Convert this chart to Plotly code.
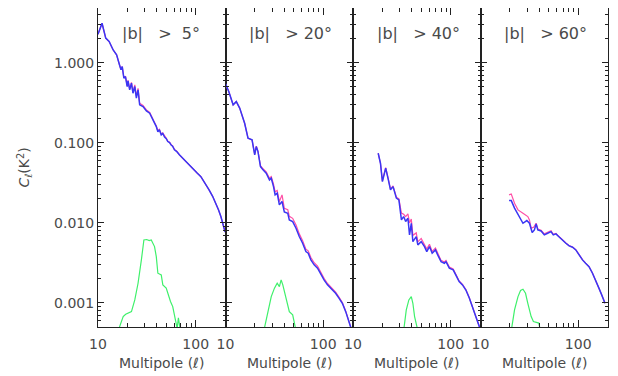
import plotly.graph_objects as go
from plotly.subplots import make_subplots

# ---------------- data ----------------
# Panel 1 : |b| > 5 deg
L1_BLUE = [10, 11, 12, 13, 14.3, 15.5, 16.7, 17.2, 17.7, 18.4, 19.1, 19.9, 20.3, 21.1, 22.0, 22.8, 23.8,
           24.7, 25.7, 26.7, 28.9, 31.3, 33.8, 35.2, 36.5, 37.9, 39.5, 41.0, 42.5, 44.4, 46.0, 48.0, 50.0,
           51.8, 54.0, 56.1, 58.0, 60.6, 64.0, 68.1, 72.0, 76.6, 81.0, 86.1, 91.0, 96.8, 104, 113, 124, 137,
           149, 161, 171, 181, 192, 200]
C1_BLUE = [2.28, 3.13, 2.04, 1.85, 1.45, 1.26, 0.92, 0.82, 0.90, 0.644, 0.674, 0.506, 0.596, 0.460, 0.557,
           0.418, 0.506, 0.362, 0.460, 0.299, 0.284, 0.251, 0.235, 0.215, 0.194, 0.176, 0.160, 0.138, 0.146,
           0.126, 0.131, 0.118, 0.113, 0.104, 0.101, 0.094, 0.091, 0.082, 0.078, 0.071, 0.066, 0.061, 0.058,
           0.053, 0.0495, 0.046, 0.0418, 0.0379, 0.0318, 0.0259, 0.0215, 0.0176, 0.0146, 0.0120, 0.0093,
           0.0077]
L1_PINK = L1_BLUE
C1_PINK = [2.28, 3.13, 2.04, 1.85, 1.45, 1.26, 0.92, 0.82, 0.90, 0.650, 0.680, 0.515, 0.605, 0.470, 0.570,
           0.430, 0.530, 0.385, 0.480, 0.312, 0.294, 0.258, 0.240, 0.220, 0.198, 0.180, 0.163, 0.141, 0.148,
           0.128, 0.133, 0.120, 0.114, 0.105, 0.102, 0.095, 0.092, 0.083, 0.079, 0.071, 0.066, 0.061, 0.058,
           0.053, 0.0495, 0.046, 0.0418, 0.0379, 0.0318, 0.0259, 0.0215, 0.0176, 0.0146, 0.0120, 0.0093,
           0.0077]
L1_GREEN = [16.1, 18.1, 19.2, 20.3, 22.0, 23.8, 25.7, 27.8, 29.5, 31.5, 33.4, 35.1, 37.9, 39.5, 41.0, 44.4,
            46.1, 49.9, 51.8, 55.2, 58.2, 60.6, 62.0, 64.6, 66.5, 68.0, 69.7]
C1_GREEN = [0.00045, 0.000675, 0.00072, 0.000743, 0.000778, 0.00109, 0.00176, 0.00345, 0.00613, 0.0062,
            0.0060, 0.00613, 0.00506, 0.00379, 0.00235, 0.00224, 0.00168, 0.00153, 0.00132, 0.00104,
            0.000899, 0.000675, 0.00058, 0.00048, 0.00065, 0.00052, 0.00045]

# Panel 2 : |b| > 20 deg
L2_BLUE = [10, 10.8, 11.97, 12.9, 13.97, 15.1, 15.7, 17.0, 18.7, 19.9, 20.65, 21.5, 22.8, 24.2, 26.1, 28.2,
           29.4, 31.0, 32.2, 33.8, 35.6, 37.9, 40.0, 43.4, 45.0, 48.7, 52.7, 56.9, 61.6, 66.5, 70.2, 74.8,
           80.8, 87.5, 94.5, 102, 110.6, 124, 134, 145, 157, 170, 179, 191, 200]
C2_BLUE = [0.546, 0.438, 0.299, 0.328, 0.272, 0.194, 0.176, 0.1145, 0.109, 0.0708, 0.0899, 0.0778, 0.0506,
           0.0460, 0.0418, 0.0345, 0.0362, 0.0284, 0.0224, 0.0235, 0.0168, 0.0185, 0.0137, 0.0132, 0.0109,
           0.0104, 0.00859, 0.00675, 0.00557, 0.00438, 0.00418, 0.00345, 0.00299, 0.00272, 0.00224,
           0.00194, 0.00168, 0.00145, 0.00132, 0.00115, 0.00099, 0.000778, 0.000644, 0.000506, 0.00042]
L2_PINK = L2_BLUE
C2_PINK = [0.546, 0.438, 0.299, 0.328, 0.272, 0.194, 0.176, 0.1145, 0.109, 0.0720, 0.0910, 0.0790, 0.0520,
           0.0475, 0.0435, 0.0362, 0.0380, 0.0305, 0.0245, 0.0255, 0.0185, 0.0224, 0.0152, 0.0146, 0.0121,
           0.0114, 0.00940, 0.00730, 0.00600, 0.00470, 0.00448, 0.00370, 0.00318, 0.00288, 0.00236,
           0.00203, 0.00175, 0.00150, 0.00136, 0.00118, 0.00101, 0.000790, 0.000650, 0.000510, 0.00042]
L2_GREEN = [24.7, 27.2, 29.4, 31.7, 33.8, 35.6, 37.1, 38.6, 41.7, 45.0, 48.7, 52.7]
C2_GREEN = [0.00045, 0.000743, 0.0012, 0.00153, 0.00176, 0.0016, 0.00194, 0.00168, 0.00109, 0.000778,
            0.000708, 0.00045]

# Panel 3 : |b| > 40 deg
L3_BLUE = [18.1, 19.1, 20.0, 21.6, 22.8, 24.2, 25.7, 27.8, 29.5, 31.3, 33.0, 34.6, 36.5, 37.9, 39.5, 41.0,
           44.4, 46.1, 49.9, 53.9, 56.9, 60.6, 64.6, 69.8, 73.6, 79.7, 86.1, 89.5, 96.8, 106, 115, 122, 132,
           143, 155, 167, 178, 188, 199]
C3_BLUE = [0.0743, 0.0557, 0.0328, 0.0483, 0.0362, 0.0259, 0.0284, 0.0204, 0.0194, 0.0109, 0.0120, 0.0104,
           0.01145, 0.00708, 0.0099, 0.00583, 0.00675, 0.00531, 0.00583, 0.00506, 0.00438, 0.00506, 0.00418,
           0.0046, 0.00398, 0.00328, 0.00313, 0.00328, 0.00272, 0.00259, 0.00213, 0.00185, 0.00168, 0.00145,
           0.00115, 0.0009, 0.000708, 0.000584, 0.000483]
L3_PINK = L3_BLUE
C3_PINK = [0.0743, 0.0557, 0.0335, 0.0490, 0.0370, 0.0265, 0.0290, 0.0210, 0.0200, 0.0133, 0.0128, 0.0120,
           0.0130, 0.0100, 0.0112, 0.00700, 0.00750, 0.00580, 0.00640, 0.00545, 0.00470, 0.00540, 0.00440,
           0.00485, 0.00415, 0.00340, 0.00325, 0.00340, 0.00280, 0.00266, 0.00218, 0.00188, 0.00170,
           0.00147, 0.00116, 0.00091, 0.000712, 0.000586, 0.000483]
L3_GREEN = [33.0, 35.1, 37.3, 39.5, 41.0, 42.7, 46.1]
C3_GREEN = [0.00045, 0.000818, 0.00109, 0.0012, 0.00099, 0.000675, 0.00045]

# Panel 4 : |b| > 60 deg
L4_BLUE = [19.6, 20.65, 22.3, 24.2, 27.2, 29.8, 31.7, 33.8, 35.6, 37.1, 38.6, 41.7, 45.0, 48.7, 52.7, 55.6,
           59.2, 63.1, 68.1, 74.8, 80.8, 87.5, 94.5, 102, 110.6, 119, 129, 140, 151, 163, 174, 188]
C4_BLUE = [0.019, 0.019, 0.0153, 0.0126, 0.0099, 0.0107, 0.0099, 0.00757, 0.00818, 0.00972, 0.00818,
           0.00794, 0.00708, 0.00743, 0.00778, 0.00708, 0.00729, 0.00675, 0.00613, 0.00557, 0.00516,
           0.00497, 0.0046, 0.00398, 0.00345, 0.00313, 0.00284, 0.00235, 0.00194, 0.00153, 0.00126, 0.00099]
L4_PINK = [19.6, 20.65, 22.3, 24.2, 27.2, 30.5, 31.7, 33.0, 35.0, 37.1, 38.6, 41.7, 45.0, 48.7, 52.7, 55.6,
           59.2, 63.1, 68.1, 74.8, 80.8, 87.5, 94.5, 102, 110.6, 119, 129, 140, 151, 163, 174, 188]
C4_PINK = [0.0224, 0.023, 0.0176, 0.01455, 0.0132, 0.0120, 0.0109, 0.00859, 0.0088, 0.0099, 0.0084,
           0.0081, 0.00730, 0.00770, 0.00800, 0.00720, 0.00740, 0.00680, 0.00620, 0.00562, 0.00520,
           0.00500, 0.00463, 0.00400, 0.00347, 0.00314, 0.00285, 0.00236, 0.00194, 0.00153, 0.00126, 0.00099]
L4_GREEN = [20.65, 22.3, 24.2, 25.7, 27.2, 28.9, 30.5, 33.0, 34.8, 37.1, 39.5, 41.0]
C4_GREEN = [0.00045, 0.000818, 0.0012, 0.00143, 0.00148, 0.00132, 0.00099, 0.000675, 0.000584, 0.00057,
            0.00056, 0.00045]

PANEL_LABELS = ["|b|\u00a0\u00a0\u00a0>\u00a0\u00a05°", "|b|\u00a0\u00a0\u00a0>\u00a020°",
                "|b|\u00a0\u00a0\u00a0>\u00a040°", "|b|\u00a0\u00a0\u00a0>\u00a060°"]
Y_TICK_VALS = [0.001, 0.01, 0.1, 1.0]
Y_TICK_TEXT = ["0.001", "0.010", "0.100", "1.000"]
X_TICK_VALS = [10, 100]
X_TICK_TEXT = ["10", "100"]
X_TITLE = "Multipole (<i>ℓ</i>)"
Y_TITLE = "<i>C</i><sub><i>ℓ</i></sub>(K<sup>2</sup>)"

PANELS = [
    (L1_BLUE, C1_BLUE, L1_PINK, C1_PINK, L1_GREEN, C1_GREEN),
    (L2_BLUE, C2_BLUE, L2_PINK, C2_PINK, L2_GREEN, C2_GREEN),
    (L3_BLUE, C3_BLUE, L3_PINK, C3_PINK, L3_GREEN, C3_GREEN),
    (L4_BLUE, C4_BLUE, L4_PINK, C4_PINK, L4_GREEN, C4_GREEN),
]

X_MINOR = [m * 10 for m in range(2, 10)] + [200]
Y_MINOR = [m * 10.0 ** e for e in range(-4, 1) for m in range(2, 10)]

BLUE = "#3a36f4"
PINK = "#ff4fa6"
GREEN = "#3ef06a"
FONT = "DejaVu Sans"
TXT = "#4a4a4a"

fig = make_subplots(rows=1, cols=4, shared_yaxes=True, horizontal_spacing=0)

for i, (lb, cb, lp, cp, lg, cg) in enumerate(PANELS, start=1):
    fig.add_trace(go.Scatter(x=lp, y=cp, mode="lines", line=dict(color=PINK, width=1.2),
                             showlegend=False, hoverinfo="skip"), row=1, col=i)
    fig.add_trace(go.Scatter(x=lb, y=cb, mode="lines", line=dict(color=BLUE, width=1.5),
                             showlegend=False, hoverinfo="skip"), row=1, col=i)
    fig.add_trace(go.Scatter(x=lg, y=cg, mode="lines", line=dict(color=GREEN, width=1.2),
                             showlegend=False, hoverinfo="skip"), row=1, col=i)
    fig.update_xaxes(
        type="log", range=[1, 2.305], tickmode="array", tickvals=X_TICK_VALS, ticktext=X_TICK_TEXT,
        ticks="inside", ticklen=7, tickwidth=1, tickcolor="#222",
        minor=dict(ticks="inside", ticklen=4, tickmode="array", tickvals=X_MINOR,
                   tickcolor="#222", showgrid=False),
        showline=True, linecolor="#222", linewidth=1, mirror="ticks",
        showgrid=False, zeroline=False, automargin=False, ticklabelstandoff=4,
        tickfont=dict(family=FONT, size=14, color=TXT),
        row=1, col=i)
    fig.update_yaxes(
        type="log", range=[-3.301, 0.686], tickmode="array", tickvals=Y_TICK_VALS, ticktext=Y_TICK_TEXT,
        ticks="inside", ticklen=6, tickwidth=1, tickcolor="#222",
        minor=dict(ticks="inside", ticklen=3, tickmode="array", tickvals=Y_MINOR,
                   tickcolor="#222", showgrid=False),
        showline=True, linecolor="#222", linewidth=1, mirror="ticks",
        showgrid=False, zeroline=False, automargin=False,
        tickfont=dict(family=FONT, size=14, color=TXT),
        row=1, col=i)
    xref = "x domain" if i == 1 else f"x{i} domain"
    yref = "y domain" if i == 1 else f"y{i} domain"
    fig.add_annotation(text=PANEL_LABELS[i - 1], xref=xref, yref=yref, x=0.17, y=0.92,
                       xanchor="left", yanchor="middle", showarrow=False,
                       font=dict(family=FONT, size=16, color=TXT))
    fig.add_annotation(text=X_TITLE, xref=xref, yref="paper", x=0.5, y=-0.113,
                       xanchor="center", yanchor="middle", showarrow=False,
                       font=dict(family=FONT, size=14, color=TXT))

fig.add_annotation(text=Y_TITLE, xref="paper", yref="paper", x=-0.145, y=0.5, textangle=-90,
                   xanchor="center", yanchor="middle", showarrow=False,
                   font=dict(family=FONT, size=14, color=TXT))

# the page body adds an 8 px offset; margins compensate so the plot lands where the reference has it
fig.update_layout(
    width=618, height=376,
    margin=dict(l=90, r=18, t=0, b=57),
    paper_bgcolor="white", plot_bgcolor="white",
)

fig.write_html("out.html")
